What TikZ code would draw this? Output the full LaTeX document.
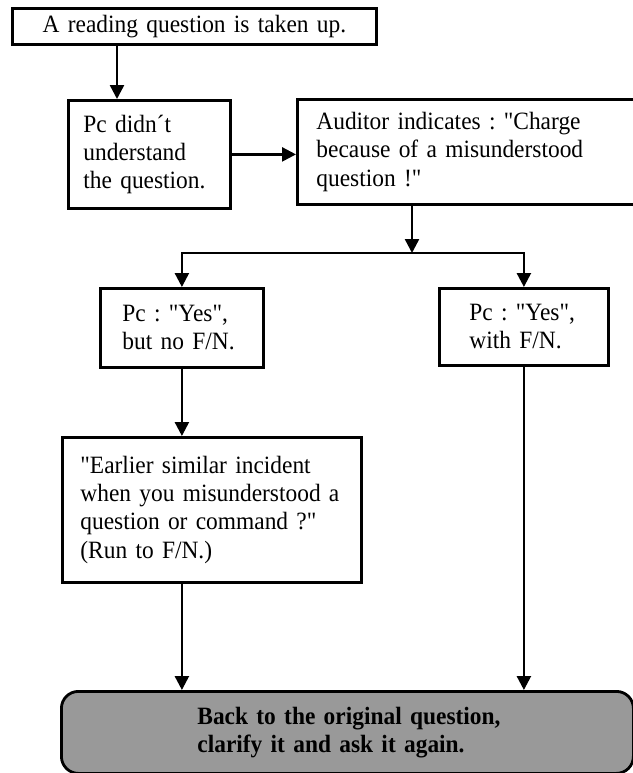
\documentclass[tikz,border=0pt]{standalone}
\usepackage{fontspec}
\setmainfont{Liberation Serif}[Ligatures=TeXOff, FakeStretch=0.94]
\usetikzlibrary{arrows.meta}
\newcommand{\txtf}{\fontsize{25}{28.3}\selectfont\frenchspacing\spaceskip=4bp plus 1bp minus 1bp\relax}
\begin{document}
\begin{tikzpicture}[x=1bp,y=-1bp,
  every node/.style={font=\txtf},
  box/.style={draw, line width=2.8bp, anchor=north west, inner ysep=0pt, align=left},
  arr/.style={line width=2.5bp, -{Triangle[length=14bp,width=14bp]}}]
\useasboundingbox (0,0) rectangle (633,773);
\node[box, align=center, minimum width=364bp, minimum height=36bp, inner xsep=12bp, text width=340bp] (b1) at (11,7) {\mbox{A reading question is taken up.}};
\node[box, minimum width=162bp, minimum height=108bp, inner xsep=15bp, text width=132bp] (b2) at (67,99) {\mbox{Pc didn´t}\\\mbox{understand}\\\mbox{the question.}};
\node[box, minimum width=370bp, minimum height=105bp, inner xsep=19bp, text width=332bp] (b3) at (296,98) {\mbox{Auditor indicates : "Charge}\\\mbox{because of a misunderstood}\\\mbox{question !"}};
\node[box, minimum width=163bp, minimum height=79bp, inner xsep=22bp, text width=119bp] (b4) at (99,287) {\mbox{Pc : "Yes",}\\\mbox{but no F/N.}};
\node[box, minimum width=169bp, minimum height=77bp, inner xsep=30bp, text width=109bp] (b5) at (438,287) {\mbox{Pc : "Yes",}\\\mbox{with F/N.}};
\node[box, minimum width=299bp, minimum height=145bp, inner xsep=18bp, text width=263bp] (b6) at (61,436) {\mbox{"Earlier similar incident}\\\mbox{when you misunderstood a}\\\mbox{question or command ?"}\\\mbox{(Run to F/N.)}};
\node[box, rounded corners=17bp, fill=black!40, minimum width=572bp, minimum height=82bp, inner xsep=136bp, text width=300bp, font=\txtf\bfseries] (b7) at (60,690) {\mbox{Back to the original question,}\\\mbox{clarify it and ask it again.}};
\coordinate (x1) at (117,0);
\coordinate (j) at (412,253);
\draw[arr] (b1.south -| x1) -- (b2.north -| x1);
\draw[arr] (b2.east) -- (b2.east -| b3.west);
\draw[arr] (b3.south -| j) -- (j);
\draw[arr] (j) -| (b4.north);
\draw[arr] (j) -| (b5.north);
\draw[arr] (b4.south) -- (b4.south |- b6.north);
\draw[arr] (b6.south -| b4.south) -- (b4.south |- b7.north);
\draw[arr] (b5.south) -- (b5.south |- b7.north);
\end{tikzpicture}
\end{document}
